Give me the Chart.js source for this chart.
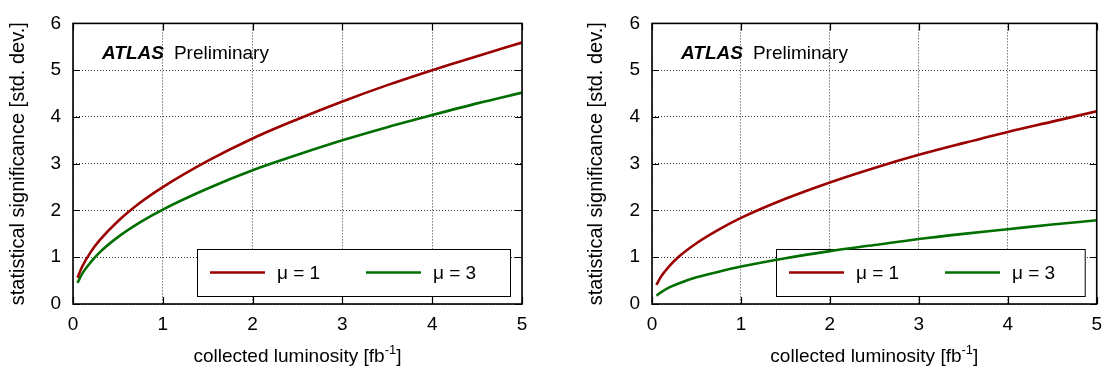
<!DOCTYPE html>
<html lang="en">
<head>
<meta charset="UTF-8">
<title>ATLAS Preliminary - statistical significance vs luminosity</title>
<script src="https://cdn.jsdelivr.net/npm/chart.js@4.4.1/dist/chart.umd.min.js"></script>
<style>
    body { margin: 0; background: #fff; }
    canvas { position: absolute; top: 0; }
    #leftChart { left: 0; }
    #rightChart { left: 555px; }
</style>
</head>
<body>
<canvas id="leftChart" width="555" height="371"></canvas>
<canvas id="rightChart" width="556" height="371"></canvas>

<script>
// collected luminosity [fb^-1] where the curves were read
const lumi = [0.05, 0.1, 0.2, 0.3, 0.5, 0.75, 1, 1.5, 2, 2.5, 3, 3.5, 4, 4.5, 5];

// left panel
const leftMu1 = [0.56, 0.79, 1.12, 1.37, 1.77, 2.17, 2.50, 3.06, 3.54, 3.95, 4.33, 4.68, 5.00, 5.30, 5.59];
const leftMu3 = [0.45, 0.64, 0.90, 1.11, 1.43, 1.75, 2.02, 2.47, 2.86, 3.19, 3.50, 3.78, 4.04, 4.29, 4.52];

// right panel
const rightMu1 = [0.41, 0.58, 0.82, 1.01, 1.30, 1.59, 1.84, 2.25, 2.60, 2.91, 3.19, 3.44, 3.68, 3.90, 4.12];
const rightMu3 = [0.18, 0.25, 0.36, 0.44, 0.57, 0.69, 0.80, 0.98, 1.13, 1.26, 1.39, 1.50, 1.60, 1.70, 1.79];

const seriesLabels = ['μ = 1', 'μ = 3'];
const xTickValues = [0, 1, 2, 3, 4, 5];
const yTickValues = [0, 1, 2, 3, 4, 5, 6];

const RED = '#9b0000';
const GREEN = '#006f00';
const FONT = '"Liberation Sans", Arial, Helvetica, sans-serif';

Chart.defaults.font.family = FONT;
Chart.defaults.color = '#000';

function toPoints(xs, ys) {
    return xs.map((x, i) => ({ x: x, y: ys[i] }));
}

// gnuplot style decorations: label, boxed legend, frame with inward ticks, x title
const decor = {
    id: 'decor',
    beforeDatasetsDraw(chart) {
        const ctx = chart.ctx;
        const a = chart.chartArea;
        ctx.save();
        ctx.fillStyle = '#000';
        ctx.textBaseline = 'alphabetic';
        ctx.font = 'italic bold 19px ' + FONT;
        ctx.fillText('ATLAS', a.left + 29, a.top + 36);
        const w = ctx.measureText('ATLAS').width;
        ctx.font = '19px ' + FONT;
        ctx.fillText('Preliminary', a.left + 29 + w + 10, a.top + 36);

        // legend box
        const bx = a.left + 124, by = a.bottom - 55;
        const bw = a.right - 12 - bx, bh = 47;
        ctx.fillStyle = '#fff';
        ctx.fillRect(bx, by, bw, bh);
        ctx.strokeStyle = '#000';
        ctx.lineWidth = 1;
        ctx.strokeRect(bx + 0.5, by + 0.5, bw, bh);
        const cy = by + bh / 2;
        chart.data.datasets.forEach((ds, i) => {
            const x0 = bx + 13 + i * 156;
            ctx.strokeStyle = ds.borderColor;
            ctx.lineWidth = 2.6;
            ctx.beginPath();
            ctx.moveTo(x0, cy);
            ctx.lineTo(x0 + 55, cy);
            ctx.stroke();
            ctx.fillStyle = '#000';
            ctx.textBaseline = 'middle';
            ctx.fillText(ds.label, x0 + 67, cy + 1);
        });
        ctx.restore();
    },
    afterDatasetsDraw(chart) {
        const ctx = chart.ctx;
        const a = chart.chartArea;
        const xs = chart.scales.x, ys = chart.scales.y;
        ctx.save();
        ctx.strokeStyle = '#000';
        ctx.lineWidth = 1.2;
        ctx.beginPath();
        xTickValues.forEach(v => {
            const px = Math.round(xs.getPixelForValue(v)) + 0.5;
            ctx.moveTo(px, a.bottom); ctx.lineTo(px, a.bottom - 7);
            ctx.moveTo(px, a.top); ctx.lineTo(px, a.top + 7);
        });
        yTickValues.forEach(v => {
            const py = Math.round(ys.getPixelForValue(v)) + 0.5;
            ctx.moveTo(a.left, py); ctx.lineTo(a.left + 7, py);
            ctx.moveTo(a.right, py); ctx.lineTo(a.right - 7, py);
        });
        ctx.stroke();
        ctx.lineWidth = 1.6;
        ctx.strokeRect(a.left, a.top, a.right - a.left, a.bottom - a.top);
        ctx.restore();
    },
    afterDraw(chart) {
        const ctx = chart.ctx;
        const a = chart.chartArea;
        ctx.save();
        ctx.fillStyle = '#000';
        ctx.textBaseline = 'alphabetic';
        const main = 'collected luminosity [fb';
        const sup = '-1';
        ctx.font = '19px ' + FONT;
        const w1 = ctx.measureText(main).width;
        const w3 = ctx.measureText(']').width;
        ctx.font = '13px ' + FONT;
        const w2 = ctx.measureText(sup).width;
        let x = (a.left + a.right) / 2 - (w1 + w2 + w3) / 2;
        const base = a.bottom + 58;
        ctx.font = '19px ' + FONT;
        ctx.fillText(main, x, base);
        ctx.font = '13px ' + FONT;
        ctx.fillText(sup, x + w1, base - 8);
        ctx.font = '19px ' + FONT;
        ctx.fillText(']', x + w1 + w2, base);
        ctx.restore();
    }
};

function createChart(id, mu1, mu3, opts) {
    const ctx = document.getElementById(id).getContext('2d');
    return new Chart(ctx, {
        type: 'line',
        data: {
            datasets: [{
                label: seriesLabels[0],
                data: toPoints(lumi, mu1),
                borderColor: RED,
                borderWidth: 2.6,
                pointRadius: 0,
                cubicInterpolationMode: 'monotone',
                fill: false
            }, {
                label: seriesLabels[1],
                data: toPoints(lumi, mu3),
                borderColor: GREEN,
                borderWidth: 2.6,
                pointRadius: 0,
                cubicInterpolationMode: 'monotone',
                fill: false
            }]
        },
        options: {
            responsive: false,
            animation: false,
            devicePixelRatio: 1,
            layout: { padding: { left: 0, top: 14, right: opts.padRight, bottom: 0 } },
            plugins: {
                legend: { display: false },
                tooltip: { enabled: false }
            },
            scales: {
                x: {
                    type: 'linear',
                    min: 0,
                    max: 5,
                    afterBuildTicks: s => { s.ticks = xTickValues.map(v => ({ value: v })); },
                    afterFit: s => { s.height = 67; },
                    ticks: { font: { size: 19 }, padding: 9, maxRotation: 0 },
                    grid: { color: 'rgba(0,0,0,0.8)', lineWidth: 1, drawTicks: false },
                    border: { display: false, dash: [1, 2] }
                },
                y: {
                    type: 'linear',
                    min: 0,
                    max: 6,
                    afterBuildTicks: s => { s.ticks = yTickValues.map(v => ({ value: v })); },
                    afterFit: s => { s.width = opts.axisLeft; },
                    ticks: { font: { size: 19 }, padding: 12 },
                    grid: { color: 'rgba(0,0,0,0.8)', lineWidth: 1, drawTicks: false },
                    border: { display: false, dash: [1, 2] },
                    title: {
                        display: true,
                        text: 'statistical significance [std. dev.]',
                        font: { size: 20 },
                        padding: { top: opts.titlePad, bottom: 0 }
                    }
                }
            }
        },
        plugins: [decor]
    });
}

createChart('leftChart', leftMu1, leftMu3, { padRight: 33, axisLeft: 73, titlePad: 6 });
createChart('rightChart', rightMu1, rightMu3, { padRight: 11, axisLeft: 97, titlePad: 29 });
</script>
</body>
</html>
